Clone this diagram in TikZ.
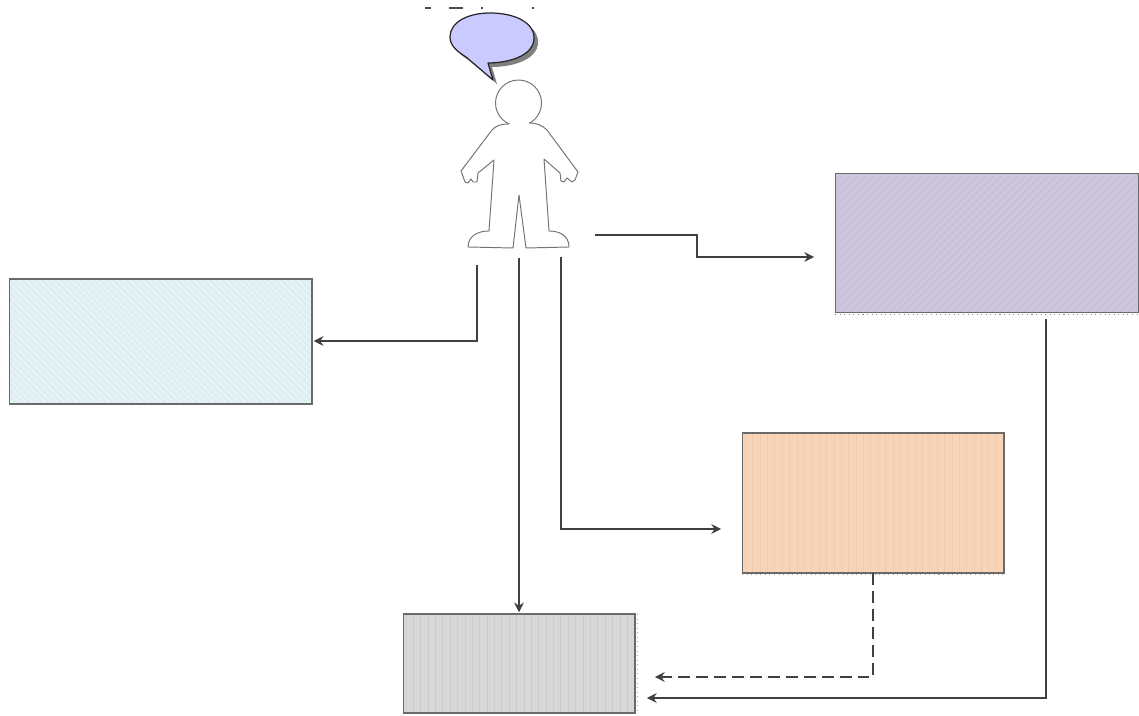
\documentclass[tikz,border=0pt]{standalone}
\usepackage{tikz}
\usetikzlibrary{arrows.meta, patterns.meta}
\definecolor{edgegray}{HTML}{6A6A6A}
\definecolor{linegray}{HTML}{404040}
\definecolor{bubble}{HTML}{CACAFF}
\definecolor{bluefill}{HTML}{E3F3F8}
\definecolor{bluehatch}{HTML}{DBE6EA}
\definecolor{purplefill}{HTML}{CDC6DE}
\definecolor{purplehatch}{HTML}{C4BDD2}
\definecolor{orangefill}{HTML}{F8D4B8}
\definecolor{orangehatch}{HTML}{EFCBAF}
\definecolor{grayfill}{HTML}{D8D8D8}
\definecolor{grayhatch}{HTML}{CCCCCC}

\begin{document}
\begin{tikzpicture}[x=0.02cm, y=-0.02cm,
      block/.style={rectangle, draw=edgegray, line width=0.6pt, inner sep=0pt, outer sep=0pt},
      blueblock/.style={block, preaction={fill=bluefill}, pattern={Lines[angle=-45,distance=2.6pt,line width=0.4pt]}, pattern color=bluehatch},
      purpleblock/.style={block, preaction={fill=purplefill}, pattern={Lines[angle=45,distance=3.2pt,line width=0.4pt]}, pattern color=purplehatch},
      orangeblock/.style={block, preaction={fill=orangefill}, pattern={Lines[angle=90,distance=4.2pt,line width=0.4pt]}, pattern color=orangehatch},
      grayblock/.style={block, preaction={fill=grayfill}, pattern={Lines[angle=90,distance=4.2pt,line width=0.4pt]}, pattern color=grayhatch},
      wire/.style={draw=linegray, line width=1pt, -{Stealth[length=5.5pt,width=5.5pt]}},
      specks/.style={line width=0.6pt, dotted, draw=black!35},
      figure/.style={draw=black!55, line width=0.55pt, line join=round}]
      \useasboundingbox (0,0) rectangle (1139,716);

      % Blocks
      \node[blueblock, minimum width=6.06cm, minimum height=2.5cm] (notes) at (160.5,341.5) {};
      \node[purpleblock, minimum width=6.08cm, minimum height=2.78cm] (store) at (987,243) {};
      \node[orangeblock, minimum width=5.24cm, minimum height=2.8cm] (review) at (873,503) {};
      \node[grayblock, minimum width=4.64cm, minimum height=1.98cm] (archive) at (519,663.5) {};

      % Rough edges
      \draw[specks, draw=blue!40!black!50] ([yshift=-1.2pt]store.south west) -- ([yshift=-1.2pt]store.south east);
      \draw[specks] ([yshift=-1pt]review.south west) -- ([yshift=-1pt]review.south east);
      \draw[specks] ([xshift=1.2pt]archive.north east) -- ([xshift=1.2pt]archive.south east);

      % Cut off line over the bubble
      \draw[line width=0.6pt, black!70] (425,8) -- (431,8) (449,8) -- (463,8) (481,8) -- (483,8) (532,8) -- (534,8);

      % Speech bubble
      \fill[black!50, shift={(4,4)}] (493,80) -- (488,63) .. controls (506,63) and (534,57) .. (534,38)
        .. controls (534,22) and (514,13) .. (490,13) .. controls (468,13) and (450,22) .. (450,37)
        .. controls (450,46) and (458,52) .. (466,57) -- cycle;
      \draw[fill=bubble, draw=black!85, line width=0.7pt, line join=round] (493,80) -- (488,63) .. controls (506,63) and (534,57) .. (534,38)
        .. controls (534,22) and (514,13) .. (490,13) .. controls (468,13) and (450,22) .. (450,37)
        .. controls (450,46) and (458,52) .. (466,57) -- cycle;

      % Figure
      \node[circle, figure, minimum size=0.92cm, inner sep=0pt] (head) at (518.5,103) {};
      \draw[figure, fill=white] (509,124) .. controls (500,124) and (496,126) .. (492,130) -- (461,171)
        -- (465,182) -- (468,183) -- (471,179) -- (473,182) -- (477,182) -- (478,173) -- (494,160)
        -- (489,231) .. controls (478,231) and (468,236) .. (468,247) -- (513,248) -- (519,195) -- (526,248)
        -- (569,247) .. controls (569,236) and (560,231) .. (549,231) -- (544,159) -- (560,173) -- (561,181)
        -- (564,182) -- (567,178) -- (572,182) -- (575,180) -- (578,172) -- (547,130)
        .. controls (542,125) and (536,123) .. (529,123);

      % Wire ends at the figure
      \coordinate (footL) at (477,265);
      \coordinate (footM) at (519,258);
      \coordinate (footR) at (561,257);
      \coordinate (sideR) at (595,235);

      % Arrows
      \draw[wire] (footL) |- ([xshift=1pt,yshift=0.28pt]notes.east);
      \draw[wire] (footM) -- ([yshift=1pt]archive.north);
      \draw[wire] (footR) |- ([xshift=-0.42cm,yshift=-0.52cm]review.west);
      \draw[wire] (sideR) -- (697,235) -- (697,257) -- ([xshift=-0.42cm,yshift=-0.28cm]store.west);
      \draw[wire, dash pattern=on 6.8pt off 3.4pt, line width=1.3pt] (review.south) |- ([xshift=0.4cm,yshift=-0.27cm]archive.east);
      \draw[wire] ([xshift=1.18cm,yshift=-0.14cm]store.south) |- ([xshift=0.24cm,yshift=-0.69cm]archive.east);
    \end{tikzpicture}
\end{document}
